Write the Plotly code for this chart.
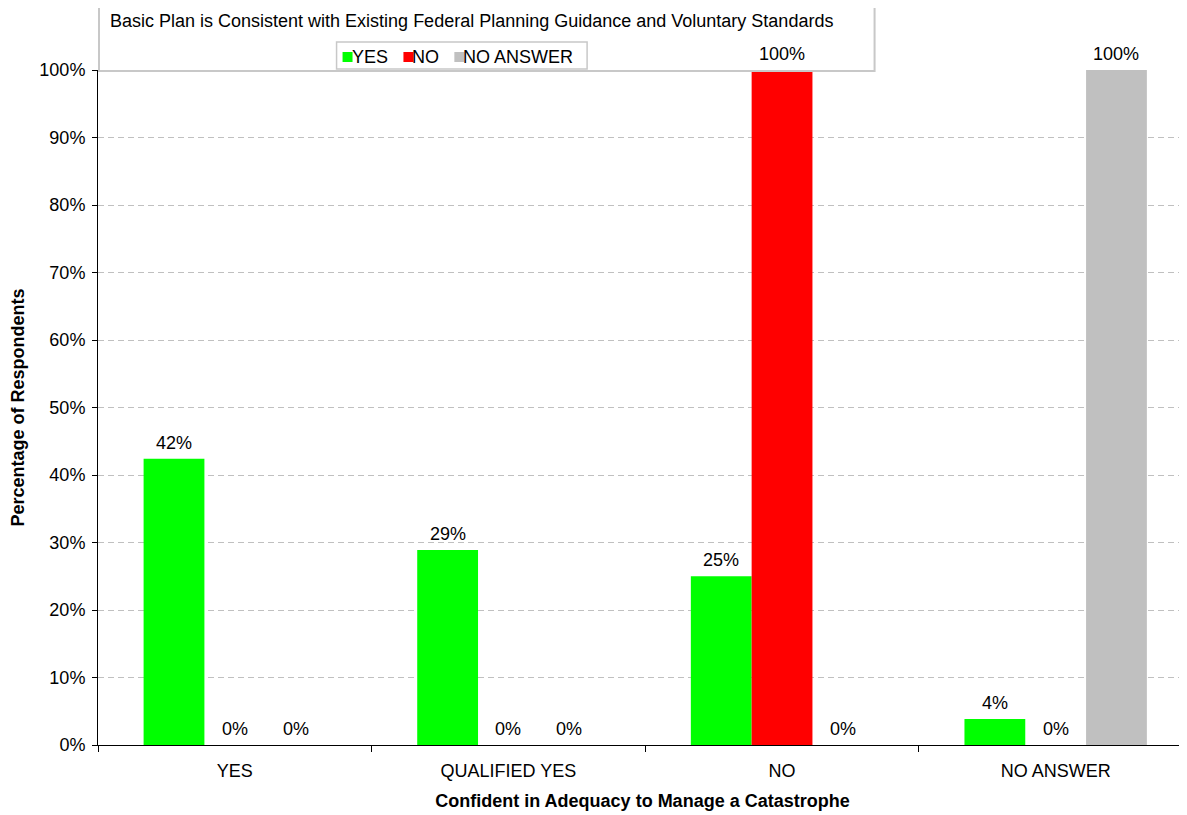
import plotly.graph_objects as go

categories = ["YES", "QUALIFIED YES", "NO", "NO ANSWER"]
series_names = ["YES", "NO", "NO ANSWER"]
yes_vals = [0.424, 0.289, 0.25, 0.0385]
no_vals = [0.0, 0.0, 1.0, 0.0]
na_vals = [0.0, 0.0, 0.0, 1.0]
colors = ["#00FF00", "#FF0000", "#C0C0C0"]

chart_title = "Basic Plan is Consistent with Existing Federal Planning Guidance and Voluntary Standards"
x_title = "Confident in Adequacy to Manage a Catastrophe"
y_title = "Percentage of Respondents"

FONT = "Liberation Sans, Arial, sans-serif"
FS = 18
BARGAP = 1/3

# screen-pixel helpers (page has an 8px body margin; plot area spans x 96..1187, y 70..745)
def px(x):
    return (x - 96) / 1091
def py(y):
    return (745 - y) / 675

all_vals = [yes_vals, no_vals, na_vals]
fig = go.Figure()
for name, vals, col in zip(series_names, all_vals, colors):
    fig.add_trace(go.Bar(
        x=categories, y=vals, name=name,
        marker=dict(color=col, line=dict(width=0)),
        showlegend=False,
    ))

annotations = []
nser = len(series_names)
bw = (1 - BARGAP) / nser
for i, vals in enumerate(all_vals):
    for j, v in enumerate(vals):
        annotations.append(dict(
            x=j + (i - (nser - 1) / 2) * bw, y=v, xref="x", yref="y",
            text=f"{v:.0%}", showarrow=False, xanchor="center", yanchor="bottom",
            yshift=5, borderpad=0,
            font=dict(family=FONT, size=FS, color="black")))

annotations.append(dict(text=chart_title, xref="paper", yref="paper",
                        x=px(107), y=py(21), xanchor="left", yanchor="middle",
                        showarrow=False, borderpad=0,
                        font=dict(family=FONT, size=FS, color="black")))

shapes = [
    dict(type="rect", xref="paper", yref="paper",
         x0=px(97), x1=px(874), y0=py(71), y1=py(5),
         line=dict(color="#C8C8C8", width=2), fillcolor="rgba(0,0,0,0)", layer="above"),
    dict(type="rect", xref="paper", yref="paper",
         x0=px(335), x1=px(586), y0=py(69), y1=py(42),
         line=dict(color="#C8C8C8", width=1.5), fillcolor="white", layer="above"),
]
legend_sq_left = [341, 402, 453]
for name, col, xl in zip(series_names, colors, legend_sq_left):
    shapes.append(dict(type="rect", xref="paper", yref="paper",
                       x0=px(xl), x1=px(xl + 10), y0=py(62), y1=py(52),
                       line=dict(width=0), fillcolor=col, layer="above"))
    annotations.append(dict(text=name, xref="paper", yref="paper",
                            x=px(xl + 8), y=py(57), xanchor="left", yanchor="middle",
                            showarrow=False, borderpad=0,
                            font=dict(family=FONT, size=FS, color="black")))

fig.update_layout(
    width=1187, height=815,
    margin=dict(l=88, r=8, t=62, b=78),
    paper_bgcolor="white", plot_bgcolor="white",
    barmode="group", bargap=BARGAP, bargroupgap=0,
    font=dict(family=FONT, size=FS, color="black"),
    showlegend=False,
    xaxis=dict(
        range=[-0.5, 3.48], showline=True, linecolor="black", linewidth=1,
        ticks="outside", tickson="boundaries", ticklen=6, tickcolor="black",
        ticklabelstandoff=9,
        showgrid=False, zeroline=False,
        title=dict(text="<b>" + x_title + "</b>", standoff=14,
                   font=dict(family=FONT, size=FS, color="black")),
    ),
    yaxis=dict(
        range=[0, 1], dtick=0.1, tickformat=".0%",
        showline=True, linecolor="black", linewidth=1,
        ticks="outside", ticklen=5, tickcolor="black",
        ticklabelstandoff=3,
        showgrid=True, gridcolor="#C0C0C0", griddash="6px,4px", gridwidth=1,
        zeroline=False,
        title=dict(text="<b>" + y_title + "</b>", standoff=11,
                   font=dict(family=FONT, size=FS, color="black")),
    ),
    shapes=shapes,
    annotations=annotations,
)

fig.write_html("out.html")
